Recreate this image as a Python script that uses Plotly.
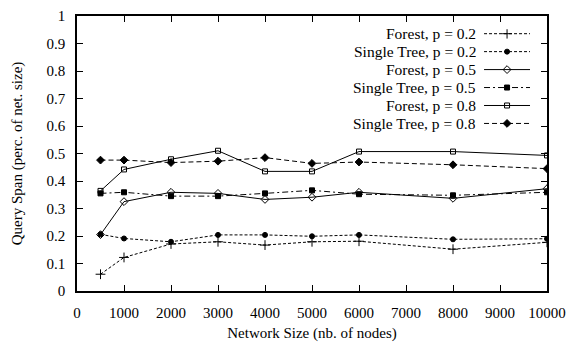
import plotly.graph_objects as go

sizes = [500, 1000, 2000, 3000, 4000, 5000, 6000, 8000, 10000]
forest_02 = [0.061, 0.122, 0.171, 0.179, 0.167, 0.179, 0.181, 0.152, 0.177]
single_02 = [0.206, 0.191, 0.179, 0.204, 0.204, 0.199, 0.204, 0.188, 0.190]
forest_05 = [0.205, 0.325, 0.359, 0.355, 0.333, 0.341, 0.359, 0.337, 0.372]
single_05 = [0.355, 0.359, 0.345, 0.345, 0.355, 0.366, 0.352, 0.348, 0.359]
forest_08 = [0.364, 0.442, 0.479, 0.510, 0.435, 0.435, 0.507, 0.507, 0.493]
single_08 = [0.476, 0.476, 0.467, 0.472, 0.485, 0.464, 0.469, 0.459, 0.445]

names = ["Forest, p = 0.2", "Single Tree, p = 0.2", "Forest, p = 0.5",
         "Single Tree, p = 0.5", "Forest, p = 0.8", "Single Tree, p = 0.8"]
series = [forest_02, single_02, forest_05, single_05, forest_08, single_08]
dashes = ["3px,2px", "3px,2px", "solid", "6px,3px,2px,3px", "solid", "5px,3px"]
symbols = ["cross-thin", "circle", "diamond-open", "square", "square-open", "diamond"]
msizes = [7, 5, 6, 5, 5, 6]

FONT = "Liberation Serif"
FS = 15
fig = go.Figure()

for vals, dash, sym, ms, name in zip(series, dashes, symbols, msizes, names):
    fig.add_trace(go.Scatter(
        x=sizes, y=vals, mode="lines+markers", name=name, showlegend=False,
        line=dict(color="black", width=1, dash=dash),
        marker=dict(symbol=sym, size=ms, color="black",
                    line=dict(color="black", width=1)),
    ))

# custom legend (text right-aligned, sample to the right)
for i, (dash, sym, ms, name) in enumerate(zip(dashes, symbols, msizes, names)):
    yy = 1 - i
    fig.add_trace(go.Scatter(
        x=[0, 1, 2], y=[yy, yy, yy], mode="lines", xaxis="x2", yaxis="y2",
        showlegend=False, hoverinfo="skip",
        line=dict(color="black", width=1, dash=dash)))
    fig.add_trace(go.Scatter(
        x=[1], y=[yy], mode="markers", xaxis="x2", yaxis="y2",
        showlegend=False, hoverinfo="skip",
        marker=dict(symbol=sym, size=ms, color="black",
                    line=dict(color="black", width=1))))
    fig.add_annotation(x=0.851, y=yy, xref="paper", yref="y2", text=name,
                       showarrow=False, xanchor="right", yanchor="middle",
                       height=17, borderpad=0,
                       font=dict(family=FONT, size=15.5, color="black"))

axis_common = dict(showline=True, linecolor="black", linewidth=1.5, mirror="ticks",
                   ticks="inside", ticklen=6, tickcolor="black", tickwidth=1,
                   showgrid=False, zeroline=False, ticklabelstandoff=7,
                   automargin=False,
                   tickfont=dict(family=FONT, size=FS, color="black"))

fig.update_layout(
    width=570, height=342,
    margin=dict(l=77, r=23, t=16, b=51),
    paper_bgcolor="white", plot_bgcolor="white",
    font=dict(family=FONT, size=FS, color="black"),
    xaxis=dict(range=[0, 10000], dtick=1000, tick0=0, tickformat="d",
               title=dict(text="Network Size (nb. of nodes)", standoff=8,
                          font=dict(family=FONT, size=FS)),
               **axis_common),
    yaxis=dict(range=[0, 1], dtick=0.1, tick0=0, tickformat="~g",
               title=dict(text="Query Span (perc. of net. size)", standoff=20,
                          font=dict(family=FONT, size=FS)),
               **axis_common),
    xaxis2=dict(domain=[0.866, 0.964], range=[0, 2], visible=False,
                anchor="y2", fixedrange=True),
    yaxis2=dict(domain=[0.593, 0.952], range=[-4.25, 1.25], visible=False,
                anchor="x2", fixedrange=True),
)

fig.write_html("out.html")
